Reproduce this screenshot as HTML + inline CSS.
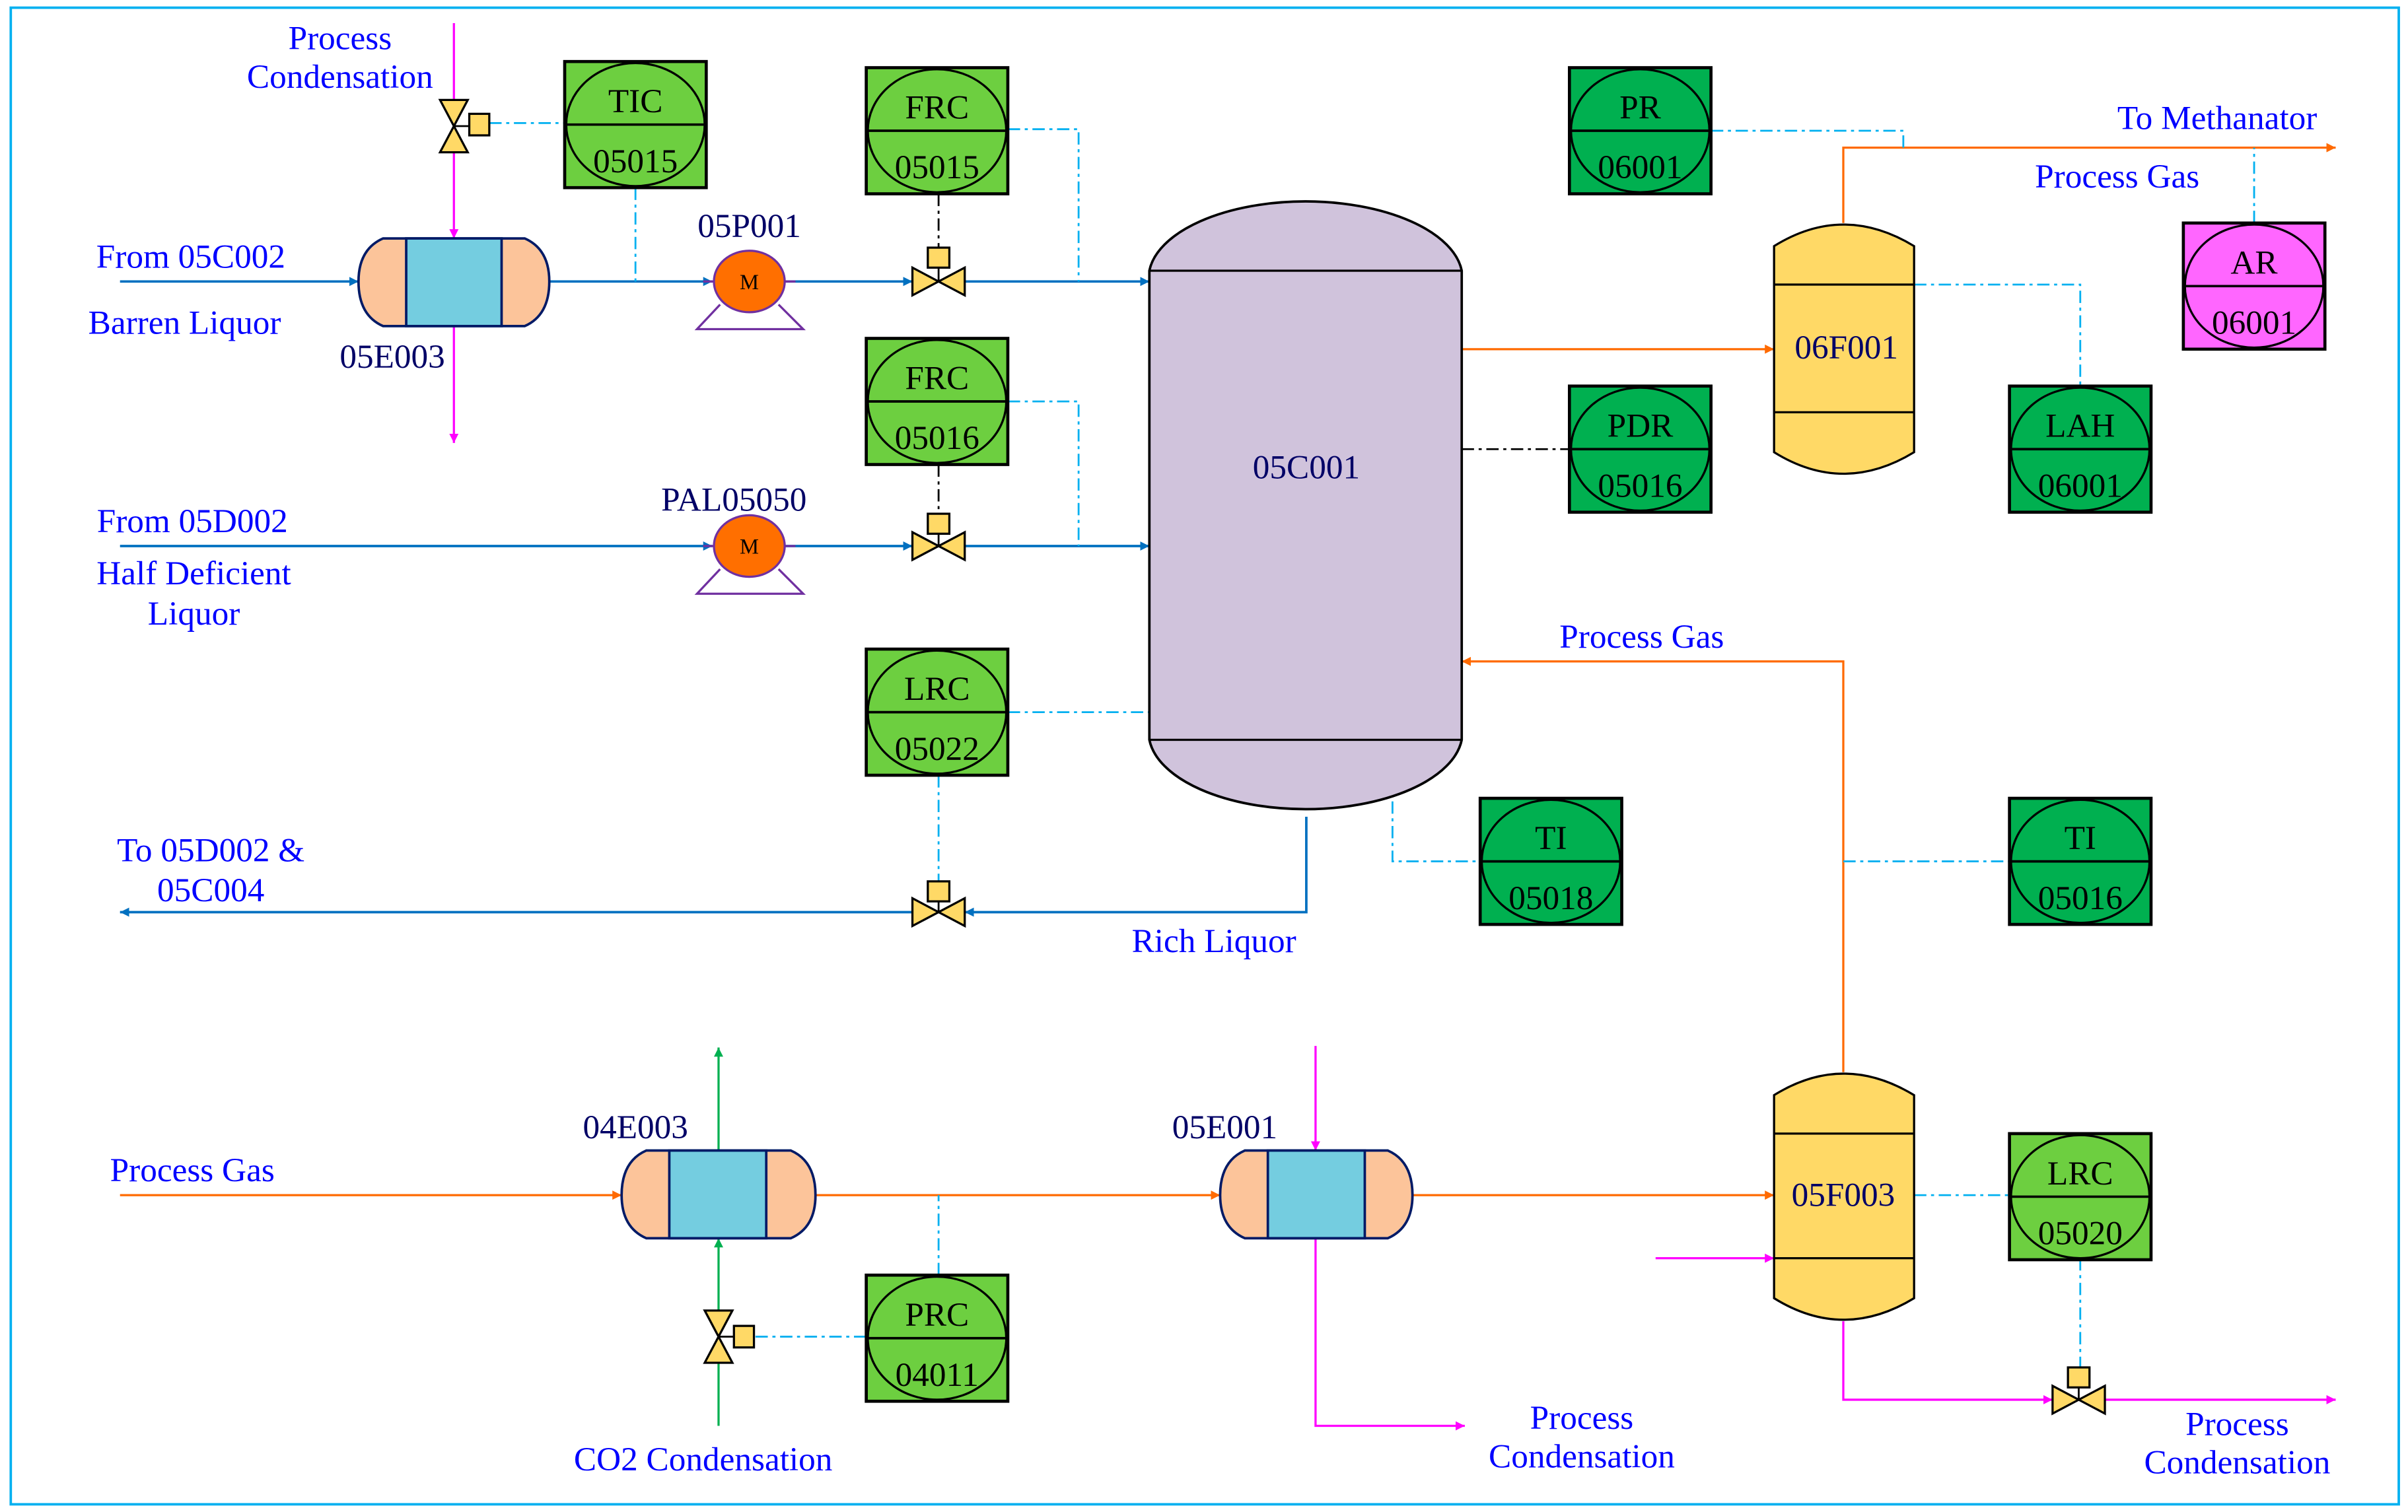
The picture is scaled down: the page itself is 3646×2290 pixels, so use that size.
<!DOCTYPE html>
<html><head><meta charset="utf-8"><style>html,body{margin:0;padding:0;background:#fff}svg{display:block}</style></head><body>
<svg width="3646" height="2290" viewBox="0 0 1565 983" preserveAspectRatio="none" xmlns="http://www.w3.org/2000/svg" font-family="'Liberation Serif', serif">
<defs>
<marker id="ab" viewBox="0 0 10 10" refX="10" refY="5" markerWidth="6" markerHeight="6" orient="auto" markerUnits="userSpaceOnUse"><path d="M0,0 L10,5 L0,10Z" fill="#0070c0"/></marker>
<marker id="am" viewBox="0 0 10 10" refX="10" refY="5" markerWidth="6" markerHeight="6" orient="auto" markerUnits="userSpaceOnUse"><path d="M0,0 L10,5 L0,10Z" fill="#ff00ff"/></marker>
<marker id="ao" viewBox="0 0 10 10" refX="10" refY="5" markerWidth="6" markerHeight="6" orient="auto" markerUnits="userSpaceOnUse"><path d="M0,0 L10,5 L0,10Z" fill="#ff6a00"/></marker>
<marker id="ag" viewBox="0 0 10 10" refX="10" refY="5" markerWidth="6" markerHeight="6" orient="auto" markerUnits="userSpaceOnUse"><path d="M0,0 L10,5 L0,10Z" fill="#00b050"/></marker>
</defs>
<style>
.b{stroke:#0070c0;stroke-width:1.6;fill:none;marker-end:url(#ab)}
.m{stroke:#ff00ff;stroke-width:1.4;fill:none;marker-end:url(#am)}
.o{stroke:#ff6a00;stroke-width:1.4;fill:none;marker-end:url(#ao)}
.g{stroke:#00b050;stroke-width:1.4;fill:none;marker-end:url(#ag)}
.n{marker-end:none}
.c{stroke:#00b0f0;stroke-width:1.2;fill:none;stroke-dasharray:8 3 2 3}
.k{stroke:#000;stroke-width:1.2;fill:none;stroke-dasharray:8 3 2 3}
text{font-size:22px;text-anchor:middle}
.bl{fill:#0000ff}.nv{fill:#000066}
.v{fill:#ffd966;stroke:#000;stroke-width:1.4}
</style>
<rect x="7" y="5" width="1552" height="973" fill="none" stroke="#00b0f0" stroke-width="1.6"/>

<line class="b" x1="78" y1="183" x2="233" y2="183"/>
<line class="b" x1="357" y1="183" x2="463" y2="183"/>
<line class="b" x1="510" y1="183" x2="593" y2="183"/>
<line class="b" x1="627" y1="183" x2="747" y2="183"/>
<line class="b" x1="78" y1="355" x2="463" y2="355"/>
<line class="b" x1="510" y1="355" x2="593" y2="355"/>
<line class="b" x1="627" y1="355" x2="747" y2="355"/>
<polyline class="b" points="849,531 849,593 627,593"/>
<line class="b" x1="593" y1="593" x2="78" y2="593"/>

<line class="m" x1="295" y1="15" x2="295" y2="73"/>
<line class="m" x1="295" y1="99" x2="295" y2="155"/>
<line class="m" x1="295" y1="212" x2="295" y2="288"/>
<line class="m" x1="855" y1="680" x2="855" y2="748"/>
<polyline class="m" points="855,805 855,927 952,927"/>
<polyline class="m" points="1198,859 1198,910 1334,910"/>
<line class="m" x1="1368" y1="910" x2="1518" y2="910"/>
<line class="m" x1="1076" y1="818" x2="1153" y2="818"/>

<line class="o" x1="78" y1="777" x2="404" y2="777"/>
<line class="o" x1="530" y1="777" x2="793" y2="777"/>
<line class="o" x1="918" y1="777" x2="1153" y2="777"/>
<polyline class="o" points="1198,697 1198,430 950,430"/>
<line class="o" x1="950" y1="227" x2="1153" y2="227"/>
<polyline class="o" points="1198,145 1198,96 1518,96"/>

<line class="g n" x1="467" y1="927" x2="467" y2="886"/>
<line class="g" x1="467" y1="852" x2="467" y2="805"/>
<line class="g" x1="467" y1="748" x2="467" y2="681"/>

<polyline class="c" points="318,80 367,80"/>
<polyline class="c" points="413,122 413,183"/>
<polyline class="c" points="655,84 701,84 701,183"/>
<polyline class="c" points="655,261 701,261 701,355"/>
<polyline class="c" points="655,463 747,463"/>
<polyline class="c" points="610,504 610,573"/>
<polyline class="c" points="1112,85 1237,85 1237,96"/>
<polyline class="c" points="1465,145 1465,96"/>
<polyline class="c" points="1244,185 1352,185 1352,251"/>
<polyline class="c" points="905,521 905,560 962,560"/>
<polyline class="c" points="1198,560 1306,560"/>
<polyline class="c" points="1244,777 1306,777"/>
<polyline class="c" points="1352,818 1352,889"/>
<polyline class="c" points="610,829 610,777"/>
<polyline class="c" points="563,869 490,869"/>
<polyline class="k" points="610,126 610,162"/>
<polyline class="k" points="610,302 610,334"/>
<polyline class="k" points="950,292 1020,292"/>

<path d="M747,176 A102,50 0 0 1 950,176 L950,481 A102,50 0 0 1 747,481 Z" fill="#d0c3dc" stroke="#000" stroke-width="1.6"/>
<line x1="747" y1="176" x2="950" y2="176" stroke="#000" stroke-width="1.4"/>
<line x1="747" y1="481" x2="950" y2="481" stroke="#000" stroke-width="1.4"/>
<text x="849" y="311" class="nv">05C001</text>

<path d="M1153,160 Q1198,132 1244,160 L1244,294 Q1198,322 1153,294 Z" fill="#ffd966" stroke="#000" stroke-width="1.4"/>
<line x1="1153" y1="185" x2="1244" y2="185" stroke="#000" stroke-width="1.4"/>
<line x1="1153" y1="268" x2="1244" y2="268" stroke="#000" stroke-width="1.4"/>
<text x="1200" y="233" class="nv">06F001</text>
<path d="M1153,712 Q1198,684 1244,712 L1244,844 Q1198,872 1153,844 Z" fill="#ffd966" stroke="#000" stroke-width="1.4"/>
<line x1="1153" y1="737" x2="1244" y2="737" stroke="#000" stroke-width="1.4"/>
<line x1="1153" y1="818" x2="1244" y2="818" stroke="#000" stroke-width="1.4"/>
<text x="1198" y="784" class="nv">05F003</text>

<g stroke="#001a66" stroke-width="1.6">
<path d="M249,155 L341,155 Q357,162 357,183 Q357,205 341,212 L249,212 Q233,205 233,183 Q233,162 249,155Z" fill="#fcc49a"/>
<rect x="264" y="155" width="62" height="57" fill="#74cde0"/>
<path d="M420,748 L514,748 Q530,755 530,777 Q530,798 514,805 L420,805 Q404,798 404,777 Q404,755 420,748Z" fill="#fcc49a"/>
<rect x="435" y="748" width="63" height="57" fill="#74cde0"/>
<path d="M809,748 L902,748 Q918,755 918,777 Q918,798 902,805 L809,805 Q793,798 793,777 Q793,755 809,748Z" fill="#fcc49a"/>
<rect x="824" y="748" width="63" height="57" fill="#74cde0"/>
</g>
<text x="255" y="239" class="nv">05E003</text>
<text x="413" y="740" class="nv">04E003</text>
<text x="796" y="740" class="nv">05E001</text>

<g stroke="#7030a0" stroke-width="1.4">
<path d="M468,198 L453,214 L522,214 L506,198" fill="none"/>
<line x1="457" y1="183" x2="517" y2="183"/>
<ellipse cx="487" cy="183" rx="23" ry="20" fill="#ff6f00"/>
<path d="M468,370 L453,386 L522,386 L506,370" fill="none"/>
<line x1="457" y1="355" x2="517" y2="355"/>
<ellipse cx="487" cy="355" rx="23" ry="20" fill="#ff6f00"/>
</g>
<text x="487" y="188" style="font-size:14px">M</text>
<text x="487" y="360" style="font-size:14px">M</text>
<text x="487" y="154" class="nv">05P001</text>
<text x="477" y="332" class="nv">PAL05050</text>

<g>
<line x1="610" y1="172" x2="610" y2="183" stroke="#000" stroke-width="1.2"/><rect x="603" y="161" width="14" height="13" class="v"/><path d="M593,174 L593,192 L627,174 L627,192Z" class="v"/>
<line x1="610" y1="344" x2="610" y2="355" stroke="#000" stroke-width="1.2"/><rect x="603" y="334" width="14" height="13" class="v"/><path d="M593,346 L593,364 L627,346 L627,364Z" class="v"/>
<line x1="610" y1="582" x2="610" y2="593" stroke="#000" stroke-width="1.2"/><rect x="603" y="573" width="14" height="13" class="v"/><path d="M593,584 L593,602 L627,584 L627,602Z" class="v"/>
<line x1="1351" y1="899" x2="1351" y2="910" stroke="#000" stroke-width="1.2"/><rect x="1344" y="889" width="14" height="13" class="v"/><path d="M1334,901 L1334,919 L1368,901 L1368,919Z" class="v"/>
<line x1="295" y1="82" x2="306" y2="82" stroke="#000" stroke-width="1.2"/><rect x="305" y="74" width="13" height="14" class="v"/><path d="M286,65 L304,65 L286,99 L304,99Z" class="v"/>
<line x1="467" y1="869" x2="478" y2="869" stroke="#000" stroke-width="1.2"/><rect x="477" y="862" width="13" height="14" class="v"/><path d="M458,852 L476,852 L458,886 L476,886Z" class="v"/>
</g>

<g stroke="#000">
<g transform="translate(367,40)"><rect width="92" height="82" fill="#6dcf40" stroke-width="2"/><ellipse cx="46" cy="41" rx="45" ry="40" fill="none" stroke-width="1.4"/><line x1="0" y1="41" x2="92" y2="41" stroke-width="1.6"/></g>
<g transform="translate(563,44)"><rect width="92" height="82" fill="#6dcf40" stroke-width="2"/><ellipse cx="46" cy="41" rx="45" ry="40" fill="none" stroke-width="1.4"/><line x1="0" y1="41" x2="92" y2="41" stroke-width="1.6"/></g>
<g transform="translate(563,220)"><rect width="92" height="82" fill="#6dcf40" stroke-width="2"/><ellipse cx="46" cy="41" rx="45" ry="40" fill="none" stroke-width="1.4"/><line x1="0" y1="41" x2="92" y2="41" stroke-width="1.6"/></g>
<g transform="translate(563,422)"><rect width="92" height="82" fill="#6dcf40" stroke-width="2"/><ellipse cx="46" cy="41" rx="45" ry="40" fill="none" stroke-width="1.4"/><line x1="0" y1="41" x2="92" y2="41" stroke-width="1.6"/></g>
<g transform="translate(563,829)"><rect width="92" height="82" fill="#6dcf40" stroke-width="2"/><ellipse cx="46" cy="41" rx="45" ry="40" fill="none" stroke-width="1.4"/><line x1="0" y1="41" x2="92" y2="41" stroke-width="1.6"/></g>
<g transform="translate(1306,737)"><rect width="92" height="82" fill="#6dcf40" stroke-width="2"/><ellipse cx="46" cy="41" rx="45" ry="40" fill="none" stroke-width="1.4"/><line x1="0" y1="41" x2="92" y2="41" stroke-width="1.6"/></g>
<g transform="translate(1020,44)"><rect width="92" height="82" fill="#00b050" stroke-width="2"/><ellipse cx="46" cy="41" rx="45" ry="40" fill="none" stroke-width="1.4"/><line x1="0" y1="41" x2="92" y2="41" stroke-width="1.6"/></g>
<g transform="translate(1020,251)"><rect width="92" height="82" fill="#00b050" stroke-width="2"/><ellipse cx="46" cy="41" rx="45" ry="40" fill="none" stroke-width="1.4"/><line x1="0" y1="41" x2="92" y2="41" stroke-width="1.6"/></g>
<g transform="translate(1306,251)"><rect width="92" height="82" fill="#00b050" stroke-width="2"/><ellipse cx="46" cy="41" rx="45" ry="40" fill="none" stroke-width="1.4"/><line x1="0" y1="41" x2="92" y2="41" stroke-width="1.6"/></g>
<g transform="translate(962,519)"><rect width="92" height="82" fill="#00b050" stroke-width="2"/><ellipse cx="46" cy="41" rx="45" ry="40" fill="none" stroke-width="1.4"/><line x1="0" y1="41" x2="92" y2="41" stroke-width="1.6"/></g>
<g transform="translate(1306,519)"><rect width="92" height="82" fill="#00b050" stroke-width="2"/><ellipse cx="46" cy="41" rx="45" ry="40" fill="none" stroke-width="1.4"/><line x1="0" y1="41" x2="92" y2="41" stroke-width="1.6"/></g>
<g transform="translate(1419,145)"><rect width="92" height="82" fill="#ff66ff" stroke-width="2"/><ellipse cx="46" cy="41" rx="45" ry="40" fill="none" stroke-width="1.4"/><line x1="0" y1="41" x2="92" y2="41" stroke-width="1.6"/></g>
</g>
<g>
<text x="413" y="73">TIC</text><text x="413" y="112">05015</text>
<text x="609" y="77">FRC</text><text x="609" y="116">05015</text>
<text x="609" y="253">FRC</text><text x="609" y="292">05016</text>
<text x="609" y="455">LRC</text><text x="609" y="494">05022</text>
<text x="609" y="862">PRC</text><text x="609" y="901">04011</text>
<text x="1352" y="770">LRC</text><text x="1352" y="809">05020</text>
<text x="1066" y="77">PR</text><text x="1066" y="116">06001</text>
<text x="1066" y="284">PDR</text><text x="1066" y="323">05016</text>
<text x="1352" y="284">LAH</text><text x="1352" y="323">06001</text>
<text x="1008" y="552">TI</text><text x="1008" y="591">05018</text>
<text x="1352" y="552">TI</text><text x="1352" y="591">05016</text>
<text x="1465" y="178">AR</text><text x="1465" y="217">06001</text>
</g>

<g>
<text x="221" y="32" class="bl">Process</text>
<text x="221" y="57" class="bl">Condensation</text>
<text x="124" y="174" class="bl">From 05C002</text>
<text x="120" y="217" class="bl">Barren Liquor</text>
<text x="125" y="346" class="bl">From 05D002</text>
<text x="126" y="380" class="bl">Half Deficient</text>
<text x="126" y="406" class="bl">Liquor</text>
<text x="137" y="560" class="bl">To  05D002 &amp;</text>
<text x="137" y="586" class="bl">05C004</text>
<text x="789" y="619" class="bl">Rich Liquor</text>
<text x="1067" y="421" class="bl">Process Gas</text>
<text x="1441" y="84" class="bl">To  Methanator</text>
<text x="1376" y="122" class="bl">Process Gas</text>
<text x="125" y="768" class="bl">Process Gas</text>
<text x="457" y="956" class="bl">CO2 Condensation</text>
<text x="1028" y="929" class="bl">Process</text>
<text x="1028" y="954" class="bl">Condensation</text>
<text x="1454" y="933" class="bl">Process</text>
<text x="1454" y="958" class="bl">Condensation</text>
</g>
</svg>
</body></html>
